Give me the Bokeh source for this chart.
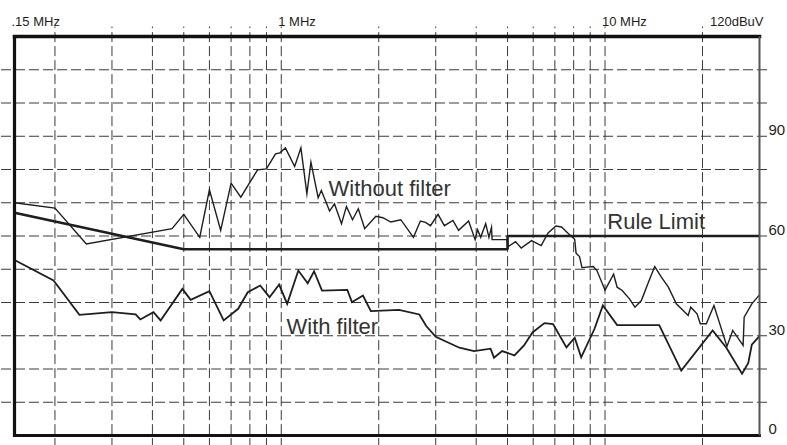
import numpy as np
from bokeh.plotting import figure
from bokeh.models import Range1d
from bokeh.core.properties import value
from bokeh.embed import file_html
from bokeh.resources import INLINE

# ---------------- data (MHz, dBuV) ----------------
without_f = [0.15, 0.2, 0.25, 0.46, 0.5, 0.56, 0.6, 0.65, 0.7, 0.75, 0.845, 0.9, 0.96, 0.99,
             1.03, 1.10, 1.15, 1.20, 1.235, 1.30, 1.33, 1.41, 1.46, 1.535, 1.59, 1.66, 1.73,
             1.81, 1.96, 2.06, 2.18, 2.34, 2.56, 2.69, 2.79, 2.89, 3.05, 3.19, 3.39, 3.53,
             3.79, 3.97, 4.04, 4.13, 4.28, 4.38, 4.46, 4.48, 4.98, 5.02, 5.29, 5.51, 5.93,
             6.35, 6.67, 7.05, 7.34, 7.67, 8.06, 8.14, 8.34, 8.49, 9.2, 9.44, 10.0, 10.63,
             10.9, 11.3, 11.9, 12.37, 12.95, 13.55, 14.24, 14.93, 15.69, 16.61, 18.06, 18.4,
             19.24, 19.69, 20.55, 21.7, 23.8, 24.8, 26.7, 26.9, 28.4, 30.0]
without_db = [70.0, 68.4, 57.6, 62.2, 66.5, 59.6, 73.9, 61.7, 75.9, 71.7, 79.9, 80.2, 84.7, 85.0,
              86.5, 80.9, 86.5, 72.7, 82.2, 71.5, 73.7, 67.5, 69.7, 63.7, 68.9, 64.9, 68.2,
              62.2, 65.9, 65.5, 64.2, 64.9, 59.6, 64.5, 64.1, 63.1, 66.5, 63.1, 64.7, 61.7,
              64.5, 58.9, 61.9, 59.6, 63.7, 59.6, 62.6, 58.9, 58.9, 56.8, 58.3, 56.4, 58.6,
              57.1, 60.9, 63.0, 62.7, 60.9, 59.0, 54.8, 53.8, 50.5, 50.8, 49.6, 43.7, 48.5,
              44.6, 43.6, 41.1, 38.6, 40.6, 45.6, 50.8, 47.6, 44.6, 39.6, 36.1, 38.6,
              36.6, 33.6, 33.6, 39.1, 26.8, 31.6, 27.1, 35.6, 39.6, 42.3]

with_f = [0.15, 0.198, 0.238, 0.30, 0.355, 0.367, 0.403, 0.424, 0.495, 0.525, 0.60, 0.664,
          0.736, 0.788, 0.861, 0.92, 0.985, 1.043, 1.129, 1.207, 1.263, 1.336, 1.60, 1.653,
          1.788, 1.891, 2.31, 2.67, 2.80, 3.0, 3.55, 3.94, 4.43, 4.54, 4.81, 5.25, 5.62,
          5.97, 6.5, 6.91, 7.6, 8.06, 8.44, 9.28, 9.85, 10.9, 14.7, 17.2, 21.5, 23.7, 26.5,
          27.7, 28.4, 30.0]
with_db = [52.8, 46.6, 36.3, 37.1, 36.4, 34.9, 37.1, 34.6, 44.1, 40.8, 43.4, 34.6,
           38.1, 43.1, 45.1, 41.6, 45.4, 39.6, 49.6, 45.8, 49.4, 43.6, 43.8, 40.1,
           42.1, 37.4, 37.8, 36.4, 33.0, 29.7, 26.4, 25.4, 26.1, 23.4, 25.4, 24.1, 27.1,
           31.0, 33.8, 33.5, 26.5, 29.4, 23.5, 32.1, 39.1, 33.2, 33.2, 19.5, 31.6, 26.4, 18.6,
           21.8, 27.3, 29.9]

limit_f = [0.15, 0.5, 5.0, 5.0, 30.0]
limit_db = [67.0, 56.0, 56.0, 60.0, 60.0]

vgrid_f = [0.2, 0.3, 0.4, 0.5, 0.6, 0.7, 0.8, 0.9, 1, 2, 3, 4, 5, 6, 7, 8, 9, 10, 20]
hgrid_db = [10, 20, 30, 40, 50, 60, 70, 80, 90, 100, 110]

top_label_f = [0.15, 1.0, 10.0]
top_labels = [".15 MHz", "1 MHz", "10 MHz"]
unit_label = "120dBuV"
right_tick_db = [0, 30, 60, 90]
right_labels = ["0", "30", "60", "90"]

series_names = ["Without filter", "Rule Limit", "With filter"]
series_label_f = [1.40, 10.16, 1.038]
series_label_db = [71.9, 61.9, 30.6]

# ---------------- layout ----------------
F0, F1 = 0.15, 30.0
Y0, Y1 = 0.0, 120.0
W, H = 787, 445
LEFT, RIGHT, TOP, BOTTOM = 14, 759, 36, 435     # frame edges in canvas pixels
PX_DEC = (RIGHT - LEFT) / np.log10(F1 / F0)      # pixels per decade
PX_UNIT = (BOTTOM - TOP) / (Y1 - Y0)             # pixels per dB


def fmul(px):
    return 10 ** (px / PX_DEC)


def lift(fs):
    # baseline correction of the text glyph, in dB units
    return 0.35 * fs / PX_UNIT


x_start, x_end = F0 / fmul(LEFT), F1 * fmul(W - RIGHT)
y_start, y_end = Y0 - (H - BOTTOM) / PX_UNIT, Y1 + TOP / PX_UNIT

FONT = value("Liberation Sans")
INK = "#1e1e1e"

p = figure(width=W, height=H, x_axis_type="log",
           x_range=Range1d(x_start, x_end), y_range=Range1d(y_start, y_end),
           output_backend="svg", toolbar_location=None, title=None,
           x_axis_location=None, y_axis_location=None, min_border=0,
           outline_line_color=None, background_fill_color="white",
           border_fill_color="white")
p.xgrid.visible = False
p.ygrid.visible = False

# dashed grid (extends a little outside the frame, as in the original)
p.segment(x0=vgrid_f, y0=[y_start - 5] * len(vgrid_f), x1=vgrid_f,
          y1=[Y1 + 10 / PX_UNIT] * len(vgrid_f),
          line_color="#3a3a3a", line_width=1, line_dash="10 4")
p.segment(x0=[x_start / 2] * len(hgrid_db), y0=hgrid_db,
          x1=[F1 * fmul(11)] * len(hgrid_db), y1=hgrid_db,
          line_color="#3a3a3a", line_width=1, line_dash="10 4")

# traces
p.line(without_f, without_db, line_color=INK, line_width=1.4, line_join="miter")
p.line(with_f, with_db, line_color=INK, line_width=1.8, line_join="miter")
p.line(limit_f, limit_db, line_color=INK, line_width=2.6)

# frame
p.segment(x0=[F0, F0, F0], y0=[Y1, Y0, Y0], x1=[F1, F0, F1], y1=[Y1, Y1, Y0],
          line_color="#111111", line_width=[3.5, 3.2, 2.8], line_cap="square")
p.segment(x0=[F1], y0=[Y0], x1=[F1], y1=[Y1], line_color="#555555", line_width=2)

# top labels
top_y = Y1 + 10 / PX_UNIT + lift(13)
p.text(x=[f / fmul(3) for f in top_label_f], y=[top_y] * len(top_label_f), text=top_labels,
       text_font=FONT, text_font_size="13px", text_color=INK,
       text_align="left", text_baseline="alphabetic")
p.text(x=[F1 * fmul(4)], y=[top_y], text=[unit_label],
       text_font=FONT, text_font_size="13px", text_color=INK,
       text_align="right", text_baseline="alphabetic")

# right labels
p.text(x=[F1 * fmul(9)] * len(right_tick_db),
       y=[d + 0.3 + lift(15) for d in right_tick_db],
       text=right_labels, text_font=FONT, text_font_size="15px", text_color=INK,
       text_align="left", text_baseline="alphabetic")

# series labels
p.text(x=series_label_f, y=[d + lift(22) for d in series_label_db], text=series_names,
       text_font=FONT, text_font_size="22px", text_color="#333333",
       text_align="left", text_baseline="alphabetic")

open("out.html", "w").write(file_html(p, INLINE))
